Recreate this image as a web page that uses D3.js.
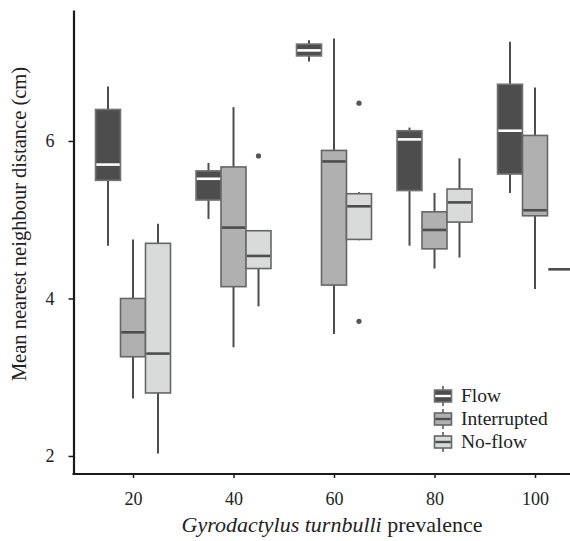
<!DOCTYPE html>
<html>
<head>
<meta charset="utf-8">
<script src="https://cdn.jsdelivr.net/npm/d3@7"></script>
<style>
  body { margin: 0; background: #fff; }
  svg { display: block; font-family: "Liberation Serif", "Times New Roman", serif; }
</style>
</head>
<body>
<div class="canvas"></div>
<script>
// categories and series
const prevalence = ['20', '40', '60', '80', '100']
const treatments = ['Flow', 'Interrupted', 'No-flow']
const yTicks = [2, 4, 6]

// box stats per treatment, one value per prevalence group
const flowLow = [4.67, 5.01, 7.01, 4.67, 5.34]
const flowQ1 = [5.50, 5.25, 7.08, 5.37, 5.58]
const flowMed = [5.70, 5.52, 7.15, 6.02, 6.13]
const flowQ3 = [6.40, 5.62, 7.23, 6.13, 6.72]
const flowHigh = [6.69, 5.72, 7.28, 6.17, 7.26]

const intLow = [2.73, 3.38, 3.55, 4.38, 4.12]
const intQ1 = [3.26, 4.15, 4.17, 4.63, 5.05]
const intMed = [3.57, 4.90, 5.74, 4.87, 5.12]
const intQ3 = [4.00, 5.67, 5.88, 5.10, 6.07]
const intHigh = [4.75, 6.43, 7.30, 5.34, 6.68]

const noLow = [2.03, 3.90, 4.74, 4.52, 4.37]
const noQ1 = [2.80, 4.38, 4.75, 4.97, 4.37]
const noMed = [3.30, 4.54, 5.17, 5.22, 4.37]
const noQ3 = [4.70, 4.86, 5.33, 5.39, 4.37]
const noHigh = [4.95, 4.86, 5.35, 5.78, 4.37]

// outliers: [prevalence, treatment, value]
const outliers = [
    ['40', 'No-flow', 5.81],
    ['60', 'No-flow', 6.48],
    ['60', 'No-flow', 3.71]
]

const stats = {
    'Flow': [flowLow, flowQ1, flowMed, flowQ3, flowHigh],
    'Interrupted': [intLow, intQ1, intMed, intQ3, intHigh],
    'No-flow': [noLow, noQ1, noMed, noQ3, noHigh]
}

const fills = { 'Flow': '#4d4d4d', 'Interrupted': '#b0b0b0', 'No-flow': '#d9dada' }
const medColors = { 'Flow': '#ffffff', 'Interrupted': '#4d4d4d', 'No-flow': '#4d4d4d' }
const borders = { 'Flow': '#737373', 'Interrupted': '#666666', 'No-flow': '#666666' }

const boxes = []
treatments.forEach(t => {
    prevalence.forEach((p, i) => {
        const s = stats[t]
        boxes.push({ p, t, low: s[0][i], q1: s[1][i], med: s[2][i], q3: s[3][i], high: s[4][i] })
    })
})

const width = 570
const height = 541
const plotLeft = 73.5
const plotBottom = 474
const plotTop = 10

const svg = d3.select('.canvas')
    .append('svg')
    .attr('width', width)
    .attr('height', height)

// scales
const y = d3.scaleLinear()
    .domain([1.771, 7.663])
    .range([plotBottom, plotTop])

const x = d3.scalePoint()
    .domain(prevalence)
    .range([133, 535])

const dodge = d3.scaleBand()
    .domain(treatments)
    .range([-37.5, 37.5])

const bw = dodge.bandwidth()
const cx = d => x(d.p) + dodge(d.t) + bw / 2

// whiskers
svg.append('g').selectAll('line')
    .data(boxes)
    .enter()
    .append('line')
    .attr('x1', cx)
    .attr('x2', cx)
    .attr('y1', d => y(d.low))
    .attr('y2', d => y(d.high))
    .attr('stroke', '#4d4d4d')
    .attr('stroke-width', 2)

// boxes
svg.append('g').selectAll('rect')
    .data(boxes.filter(d => d.q3 > d.q1))
    .enter()
    .append('rect')
    .attr('x', d => x(d.p) + dodge(d.t))
    .attr('width', bw)
    .attr('y', d => y(d.q3))
    .attr('height', d => y(d.q1) - y(d.q3))
    .attr('fill', d => fills[d.t])
    .attr('stroke', d => borders[d.t])
    .attr('stroke-width', 1.6)

// medians
svg.append('g').selectAll('line')
    .data(boxes)
    .enter()
    .append('line')
    .attr('x1', d => x(d.p) + dodge(d.t) + 0.8)
    .attr('x2', d => x(d.p) + dodge(d.t) + bw - 0.8)
    .attr('y1', d => y(d.med))
    .attr('y2', d => y(d.med))
    .attr('stroke', d => d.q3 > d.q1 ? medColors[d.t] : '#4d4d4d')
    .attr('stroke-width', 2.6)

// outliers
svg.append('g').selectAll('circle')
    .data(outliers)
    .enter()
    .append('circle')
    .attr('cx', d => x(d[0]) + dodge(d[1]) + bw / 2)
    .attr('cy', d => y(d[2]))
    .attr('r', 2.6)
    .attr('fill', '#555555')

// axes
const yAxisGroup = svg.append('g')
    .attr('transform', `translate(${plotLeft}, 0)`)
    .call(d3.axisLeft(y).tickValues(yTicks).tickFormat(d3.format('d'))
        .tickSize(5).tickSizeOuter(0).tickPadding(14))
const xAxisGroup = svg.append('g')
    .attr('transform', `translate(0, ${plotBottom})`)
    .call(d3.axisBottom(x).tickSize(4).tickSizeOuter(0).tickPadding(14))

xAxisGroup.select('.domain').remove()
svg.append('line')
    .attr('x1', plotLeft - 1)
    .attr('x2', width)
    .attr('y1', plotBottom)
    .attr('y2', plotBottom)
    .attr('stroke', '#1a1a1a')
    .attr('stroke-width', 2.2)

yAxisGroup.select('.domain')
    .attr('stroke', '#1a1a1a')
    .attr('stroke-width', 2.2)

svg.selectAll('.tick line')
    .attr('stroke', '#1a1a1a')
    .attr('stroke-width', 1.5)

svg.selectAll('.tick text')
    .attr('font-family', '"Liberation Serif", "Times New Roman", serif')
    .attr('font-size', 18)
    .attr('fill', '#222')

// axis titles
svg.append('text')
    .attr('transform', `translate(26, 224) rotate(-90)`)
    .attr('text-anchor', 'middle')
    .attr('font-size', 20.5)
    .attr('fill', '#222')
    .text('Mean nearest neighbour distance (cm)')

const title = svg.append('text')
    .attr('x', 332)
    .attr('y', 532)
    .attr('text-anchor', 'middle')
    .attr('font-size', 22)
    .attr('fill', '#222')
title.append('tspan').attr('font-style', 'italic').text('Gyrodactylus turnbulli')
title.append('tspan').text(' prevalence')

// legend
const legend = svg.append('g')
    .attr('transform', 'translate(434, 396)')

const items = legend.selectAll('g')
    .data(treatments)
    .enter()
    .append('g')
    .attr('transform', (d, i) => `translate(0, ${i * 23})`)

items.append('line')
    .attr('x1', 9).attr('x2', 9)
    .attr('y1', -10).attr('y2', 10)
    .attr('stroke', '#4d4d4d')
    .attr('stroke-width', 1.5)
items.append('rect')
    .attr('x', 0.5).attr('y', -6)
    .attr('width', 17).attr('height', 12)
    .attr('fill', d => fills[d])
    .attr('stroke', d => borders[d])
    .attr('stroke-width', 1.6)
items.append('line')
    .attr('x1', 1.3).attr('x2', 16.7)
    .attr('y1', 0).attr('y2', 0)
    .attr('stroke', d => medColors[d])
    .attr('stroke-width', 2.4)
items.append('text')
    .attr('x', 27)
    .attr('y', 6)
    .attr('font-size', 19.5)
    .attr('fill', '#222')
    .text(d => d)
</script>
</body>
</html>
